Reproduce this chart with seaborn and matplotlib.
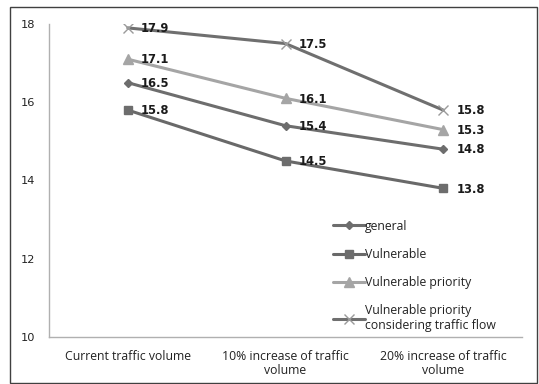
import matplotlib
matplotlib.use("Agg")
import matplotlib.pyplot as plt
from matplotlib.patches import Rectangle
from matplotlib.ticker import FixedLocator
import seaborn as sns
import pandas as pd

scenarios = ["Current traffic volume",
             "10% increase of traffic\nvolume",
             "20% increase of traffic\nvolume"]
series_names = ["general", "Vulnerable", "Vulnerable priority",
                "Vulnerable priority\nconsidering traffic flow"]
general = [16.5, 15.4, 14.8]
vulnerable = [15.8, 14.5, 13.8]
vulnerable_priority = [17.1, 16.1, 15.3]
priority_flow = [17.9, 17.5, 15.8]
y_ticks = [10, 12, 14, 16, 18]

series_values = [general, vulnerable, vulnerable_priority, priority_flow]
rows = []
for name, vals in zip(series_names, series_values):
    for i, v in enumerate(vals):
        rows.append({"scenario": i, "series": name, "value": v})
df = pd.DataFrame(rows)

sns.set_style("white")
plt.rcParams["font.family"] = ["DejaVu Sans"]

fig = plt.figure(figsize=(5.39, 3.84), dpi=100)
ax = fig.add_axes([49 / 539, 1 - 337 / 384, (522 - 49) / 539, (337 - 24) / 384])

line_colors = {series_names[0]: "#6d6d6d", series_names[1]: "#696969",
               series_names[2]: "#a5a5a5", series_names[3]: "#6f6f6f"}
marker_map = {series_names[0]: "D", series_names[1]: "s",
              series_names[2]: "^", series_names[3]: "x"}
marker_sizes = {series_names[0]: 4.5, series_names[1]: 5.5,
                series_names[2]: 6.5, series_names[3]: 6.5}
marker_colors = {series_names[0]: "#6d6d6d", series_names[1]: "#6d6d6d",
                 series_names[2]: "#a5a5a5", series_names[3]: "#9a9a9a"}

for name in series_names:
    sub = df[df["series"] == name]
    sns.lineplot(data=sub, x="scenario", y="value", ax=ax,
                 color=line_colors[name], lw=2.2,
                 marker=marker_map[name], markersize=marker_sizes[name],
                 markerfacecolor=marker_colors[name],
                 markeredgecolor=marker_colors[name],
                 markeredgewidth=1.0, label=name)
    for x, v in zip(sub["scenario"], sub["value"]):
        ax.annotate(f"{v:.1f}", (x, v), xytext=(9.5, -0.5),
                    textcoords="offset points", ha="left", va="center",
                    fontsize=8.3, fontweight="bold", color="#1a1a1a")

ax.set_xlim(-0.5, 2.5)
ax.set_ylim(10, 18)
ax.set_yticks(y_ticks)
ax.set_yticklabels([str(t) for t in y_ticks], fontsize=8.2, color="#222222")
ax.set_xticks([0, 1, 2])
ax.set_xticklabels(scenarios, fontsize=8.8, color="#222222",
                   family=["Open Sans"], linespacing=1.15)
ax.xaxis.set_minor_locator(FixedLocator([-0.5, 0.5, 1.5, 2.5]))
ax.tick_params(axis="x", which="major", length=0, pad=9)
ax.tick_params(axis="x", which="minor", length=4, color="#b0b0b0", direction="out")
ax.tick_params(axis="y", length=4, color="#b0b0b0", direction="out", pad=6)
ax.set_xlabel("")
ax.set_ylabel("")
for side in ["top", "right"]:
    ax.spines[side].set_visible(False)
for side in ["left", "bottom"]:
    ax.spines[side].set_color("#b0b0b0")
    ax.spines[side].set_linewidth(1.0)

leg = ax.legend(loc="upper left", bbox_to_anchor=(0.6, 0.375), frameon=False,
                labelspacing=1.25, handlelength=2.6, handletextpad=0.0,
                borderaxespad=0.0, borderpad=0.0,
                prop={"family": "Open Sans", "size": 8.8})
for t in leg.get_texts():
    t.set_color("#222222")
    t.set_linespacing(1.15)

fig.patches.append(Rectangle((10 / 539, 1 / 384), 527 / 539, 376 / 384,
                             transform=fig.transFigure, fill=False,
                             edgecolor="#404040", lw=1.0))

fig.savefig("out.png", dpi=100)
